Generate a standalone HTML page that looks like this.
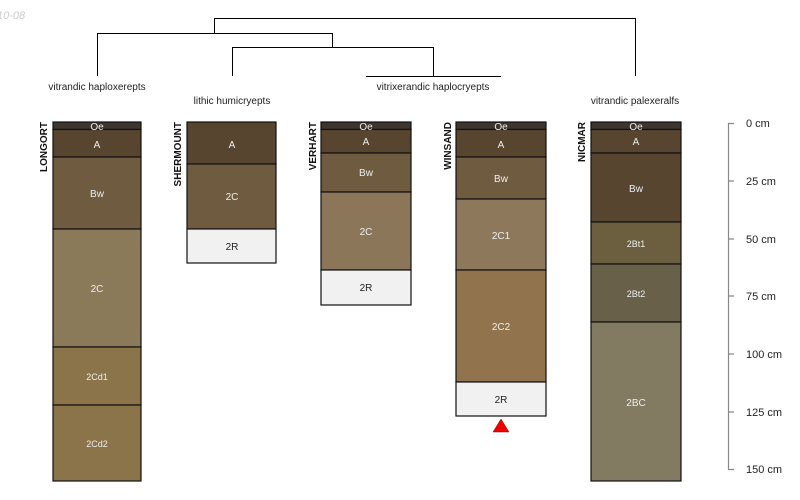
<!DOCTYPE html>
<html><head><style>body{margin:0;background:#fff}svg{display:block}</style></head><body>
<svg width="800" height="500" viewBox="0 0 800 500" xmlns="http://www.w3.org/2000/svg" font-family="Liberation Sans, sans-serif">
<text x="-3" y="19" font-size="11" font-style="italic" fill="#ccc">10-08</text>
<g stroke="#000" fill="none" stroke-width="1">
<path d="M214.5 33V18.5H635.5V76"/>
<path d="M97.5 76V33.5H332.5V47"/>
<path d="M232.5 76V47.5H433.5V76"/>
<path d="M366 76.5H501"/>
</g>
<g font-size="10" fill="#222" text-anchor="middle">
<text x="97" y="90">vitrandic haploxerepts</text>
<text x="232" y="104">lithic humicryepts</text>
<text x="433" y="90">vitrixerandic haplocryepts</text>
<text x="635" y="104">vitrandic palexeralfs</text>
</g>
<g stroke="#111" stroke-width="1.2">
<!-- LONGORT -->
<rect x="53" y="122" width="88" height="7.5" fill="#3d3530"/>
<rect x="53" y="129.5" width="88" height="27.5" fill="#574530"/>
<rect x="53" y="157" width="88" height="72" fill="#6f5b40"/>
<rect x="53" y="229" width="88" height="118" fill="#8a7a5a"/>
<rect x="53" y="347" width="88" height="58" fill="#8c744a"/>
<rect x="53" y="405" width="88" height="76" fill="#8c744a"/>
<!-- SHERMOUNT -->
<rect x="187" y="122" width="89" height="42" fill="#574530"/>
<rect x="187" y="164" width="89" height="65" fill="#6f5b40"/>
<rect x="187" y="229" width="89" height="34" fill="#f1f1f1"/>
<!-- VERHART -->
<rect x="321" y="122" width="90" height="7.5" fill="#3d3530"/>
<rect x="321" y="129.5" width="90" height="23.5" fill="#574530"/>
<rect x="321" y="153" width="90" height="39" fill="#6f5b40"/>
<rect x="321" y="192" width="90" height="78" fill="#8b765a"/>
<rect x="321" y="270" width="90" height="35" fill="#f1f1f1"/>
<!-- WINSAND -->
<rect x="456" y="122" width="90" height="7.5" fill="#3d3530"/>
<rect x="456" y="129.5" width="90" height="27.5" fill="#574530"/>
<rect x="456" y="157" width="90" height="42" fill="#6f5b40"/>
<rect x="456" y="199" width="90" height="71" fill="#8e785c"/>
<rect x="456" y="270" width="90" height="112" fill="#91744e"/>
<rect x="456" y="382" width="90" height="34" fill="#f1f1f1"/>
<!-- NICMAR -->
<rect x="591" y="122" width="90" height="7.5" fill="#3d3530"/>
<rect x="591" y="129.5" width="90" height="23.5" fill="#574530"/>
<rect x="591" y="153" width="90" height="69" fill="#57452f"/>
<rect x="591" y="222" width="90" height="42" fill="#6b5f40"/>
<rect x="591" y="264" width="90" height="58" fill="#686049"/>
<rect x="591" y="322" width="90" height="159" fill="#837a62"/>
</g>
<polygon points="501,419 509,432 493,432" fill="#e00" stroke="#900" stroke-width="0.5"/>
<g font-size="10" fill="#eee" text-anchor="middle">
<text x="97" y="130">Oe</text><text x="97" y="148">A</text><text x="97" y="197">Bw</text><text x="97" y="292">2C</text>
<text x="97" y="380" font-size="9">2Cd1</text><text x="97" y="447" font-size="9">2Cd2</text>
<text x="232" y="148">A</text><text x="232" y="200">2C</text><text x="232" y="250" fill="#222">2R</text>
<text x="366" y="130">Oe</text><text x="366" y="145">A</text><text x="366" y="176">Bw</text><text x="366" y="235">2C</text><text x="366" y="291" fill="#222">2R</text>
<text x="501" y="130">Oe</text><text x="501" y="148">A</text><text x="501" y="182">Bw</text><text x="501" y="239">2C1</text><text x="501" y="330">2C2</text><text x="501" y="403" fill="#222">2R</text>
<text x="636" y="130">Oe</text><text x="636" y="145">A</text><text x="636" y="192">Bw</text>
<text x="636" y="247" font-size="9">2Bt1</text><text x="636" y="297" font-size="9">2Bt2</text><text x="636" y="406">2BC</text>
</g>
<g font-size="10" font-weight="bold" fill="#111" text-anchor="end">
<text transform="translate(47,122) rotate(-90)">LONGORT</text>
<text transform="translate(181,122) rotate(-90)">SHERMOUNT</text>
<text transform="translate(316,122) rotate(-90)">VERHART</text>
<text transform="translate(451,122) rotate(-90)">WINSAND</text>
<text transform="translate(585,122) rotate(-90)">NICMAR</text>
</g>
<g stroke="#888" stroke-width="1.2" fill="none">
<path d="M734 123.5H728.5V469.5H734"/>
<path d="M728 181H734M728 239H734M728 296H734M728 354H734M728 412H734"/>
</g>
<g font-size="11" fill="#222">
<text x="746" y="127">0 cm</text><text x="746" y="185">25 cm</text><text x="746" y="243">50 cm</text>
<text x="746" y="300">75 cm</text><text x="746" y="358">100 cm</text><text x="746" y="416">125 cm</text><text x="746" y="473">150 cm</text>
</g>
</svg>
</body></html>
